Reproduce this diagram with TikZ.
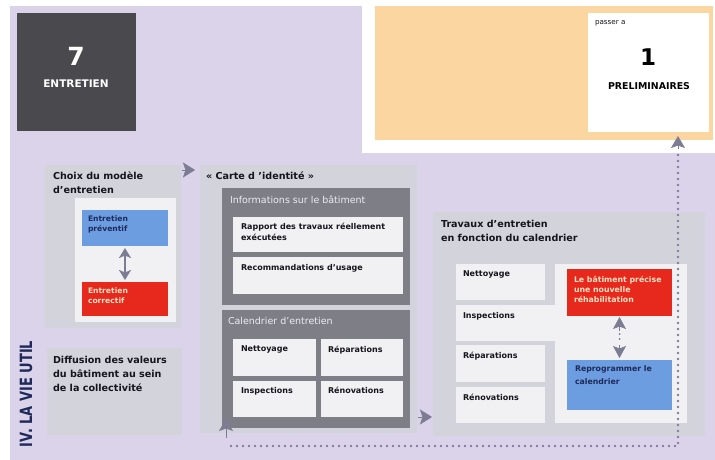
\documentclass[tikz,border=0pt]{standalone}
\usepackage{fontspec}
\setmainfont{DejaVu Sans}
\usetikzlibrary{fit,arrows.meta,calc}
\definecolor{lav}{HTML}{DBD3EA}
\definecolor{lgray}{HTML}{D3D3DB}
\definecolor{wbox}{HTML}{F1F1F4}
\definecolor{dgray}{HTML}{7E7E86}
\definecolor{darkb}{HTML}{4A494D}
\definecolor{orng}{HTML}{FBD6A0}
\definecolor{bluebx}{HTML}{6C9DE0}
\definecolor{redbx}{HTML}{E6281D}
\definecolor{arrowc}{HTML}{7C7C92}
\definecolor{dotc}{HTML}{7E7E9C}
\definecolor{ink}{HTML}{15151C}
\definecolor{navy}{HTML}{1F2A5A}
\definecolor{cream}{HTML}{FFE2C4}
\definecolor{lighttx}{HTML}{ECECF2}
\begin{document}
\begin{tikzpicture}[x=1pt,y=-1pt,
  bx/.style={inner sep=0pt, outer sep=0pt, draw=none, rectangle},
  tl/.style={anchor=north west, align=left, inner sep=0pt, outer sep=0pt, text=ink,
     font=\fontsize{8}{11.5}\selectfont\bfseries},
  ttl/.style={tl, font=\fontsize{9.6}{14}\selectfont\bfseries},
  hdr/.style={tl, text=lighttx, font=\fontsize{9.5}{12}\selectfont},
  sml/.style={tl, font=\fontsize{7.6}{9.6}\selectfont\bfseries},
  tri/.style={draw=arrowc, fill=arrowc, line width=0.6pt,
     -{Stealth[length=12pt,width=15pt,inset=2.5pt]}},
  dbl/.style={draw=arrowc, line width=2.4pt,
     {Stealth[length=10pt,width=12pt,inset=2.5pt]}-{Stealth[length=10pt,width=12pt,inset=2.5pt]}},
  dotline/.style={draw=dotc, line width=2.6pt, line cap=round, dash pattern=on 0pt off 6pt}
]
\useasboundingbox (0,0) rectangle (715,460);
\fill[white] (0,0) rectangle (715,460);
\fill[lav] (10,6) rectangle (715,460);
\fill[white] (362,0) rectangle (715,153);
\node[bx, fill=orng, fit={(375,6) (713,140)}] (orange) {};

% dark box
\node[bx, fill=darkb, fit={(17,13) (136,131)}] (entbox) {};
\node[text=white, font=\fontsize{25}{25}\selectfont\bfseries, inner sep=0pt] (n7) at (76,56) {7};
\node[text=white, font=\fontsize{10.5}{12}\selectfont\bfseries, inner sep=0pt] (nEnt) at (76,84) {ENTRETIEN};

% prelim box
\node[bx, fill=white, fit={(588,13) (709,132)}] (prelim) {};
\node[tl, font=\fontsize{7.2}{8}\selectfont] (passer) at (595,20) {passer a};
\node[text=black, font=\fontsize{23}{23}\selectfont\bfseries, inner sep=0pt] (n1) at (648,57) {1};
\node[text=black, font=\fontsize{9.4}{11}\selectfont\bfseries, inner sep=0pt] (nPre) at (649,86) {PRELIMINAIRES};

% vertical label
\node[rotate=90, text=navy, inner sep=0pt, font=\fontsize{13}{14}\selectfont\bfseries] (vie) at (26,394)
  {\scalebox{1}[1.3]{IV. LA VIE UTIL}};

% Choix box
\node[bx, fill=lgray, fit={(45,165) (181,328)}] (choix) {};
\node[ttl] (choixT) at (53,172) {Choix du modèle\\d'entretien};
\node[bx, fill=wbox, fit={(75,198) (176,322)}] (choixIn) {};
\node[bx, fill=bluebx, fit={(82,210) (168,246)}] (prev) {};
\node[sml, text=navy] (prevT) at (88,216) {Entretien\\préventif};
\node[bx, fill=redbx, fit={(82,282) (168,316)}] (corr) {};
\node[sml, text=cream] (corrT) at (88,288) {Entretien\\correctif};
\draw[dbl, shorten <=2pt, shorten >=2pt] (prev.south) -- (corr.north);

% Diffusion box
\node[bx, fill=lgray, fit={(47,348) (182,435)}] (diff) {};
\node[ttl] (diffT) at (53,356) {Diffusion des valeurs\\du bâtiment au sein\\de la collectivité};

% Carte box
\node[bx, fill=lgray, fit={(200,165) (417,433)}] (carte) {};
\node[ttl] (carteT) at (206,172) {« Carte d 'identité »};
\node[bx, fill=dgray, fit={(222,188) (410,305)}] (info) {};
\node[hdr] (infoT) at (230,196) {Informations sur le bâtiment};
\node[bx, fill=wbox, fit={(233,217) (403,252)}] (rapp) {};
\node[tl] (rappT) at (241,223) {Rapport des travaux réellement\\exécutées};
\node[bx, fill=wbox, fit={(233,257) (403,294)}] (reco) {};
\node[tl] (recoT) at (241,264) {Recommandations d'usage};
\node[bx, fill=dgray, fit={(222,310) (410,428)}] (cal) {};
\node[hdr] (calT) at (228,317) {Calendrier d'entretien};
\node[bx, fill=wbox, fit={(233,339) (316,376)}] (cN) {};
\node[tl] (cNT) at (241,346) {Nettoyage};
\node[bx, fill=wbox, fit={(321,339) (403,376)}] (cR) {};
\node[tl] (cRT) at (328,346) {Réparations};
\node[bx, fill=wbox, fit={(233,381) (316,417)}] (cI) {};
\node[tl] (cIT) at (241,387) {Inspections};
\node[bx, fill=wbox, fit={(321,381) (403,417)}] (cRe) {};
\node[tl] (cReT) at (328,387) {Rénovations};

% Travaux box
\node[bx, fill=lgray, fit={(433,212) (705,436)}] (trav) {};
\node[ttl] (travT) at (441,220) {Travaux d'entretien\\en fonction du calendrier};
\node[bx, fill=wbox, fit={(555,264) (687,423)}] (panel) {};
\node[bx, fill=wbox, fit={(456,264) (545,300)}] (tN) {};
\node[tl] (tNT) at (463,271) {Nettoyage};
\node[bx, fill=wbox, fit={(456,305) (556,341)}] (tI) {};
\node[tl] (tIT) at (463,312) {Inspections};
\node[bx, fill=wbox, fit={(456,345) (545,382)}] (tR) {};
\node[tl] (tRT) at (463,352) {Réparations};
\node[bx, fill=wbox, fit={(456,387) (545,423)}] (tRe) {};
\node[tl] (tReT) at (463,394) {Rénovations};
\node[bx, fill=redbx, fit={(567,269) (672,316)}] (reha) {};
\node[sml, text=cream, font=\fontsize{7.8}{10}\selectfont\bfseries] (rehaT) at (574,276) {Le bâtiment précise\\une nouvelle\\réhabilitation};
\node[bx, fill=bluebx, fit={(567,360) (672,410)}] (repro) {};
\node[sml, text=navy, font=\fontsize{7.8}{12.5}\selectfont\bfseries] (reproT) at (575,366) {Reprogrammer le\\calendrier};

% double arrow between red and blue (dotted shaft)
\draw[draw=arrowc, line width=2pt, line cap=round, dash pattern=on 0pt off 5pt, shorten <=18pt, shorten >=17pt] (reha.south) -- (repro.north);
\draw[tri, -{Stealth[length=12pt,width=13pt,inset=2.5pt]}] ($(reha.south)+(0,15)$) -- ($(reha.south)+(0,1)$);
\draw[tri, -{Stealth[length=12pt,width=13pt,inset=2.5pt]}] ($(repro.north)+(0,-15)$) -- ($(repro.north)+(0,-2)$);

% triangular connectors
\draw[tri] ($(choix.north east)+(1,5)$) -- ($(carte.north west)+(-5,5)$);
\draw[tri] ($(carte.south east)+(1,-16)$) -- ($(trav.south west)+(-1,-19)$);

% dotted return path
\coordinate (dTop) at (678,136);
\coordinate (dCorner) at (678,446);
\coordinate (dLeft) at (230,446);
\coordinate (dBot) at (226,419);
\draw[dotline] ($(dTop)+(0,19)$) -- (dCorner) -- (dLeft);
\draw[tri, -{Stealth[length=12pt,width=14pt,inset=2.5pt]}] ($(dTop)+(0,13)$) -- (dTop);
\draw[tri, -{Stealth[length=12pt,width=14pt,inset=2.5pt]}] ($(dBot)+(0,19)$) -- (dBot);
\end{tikzpicture}
\end{document}
